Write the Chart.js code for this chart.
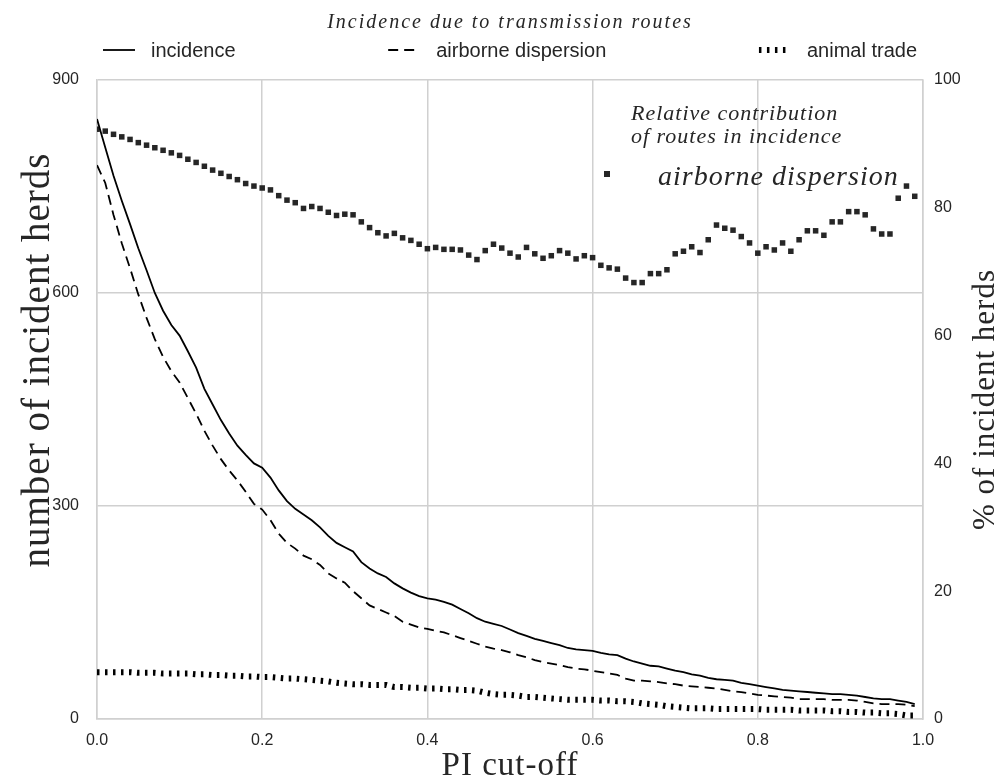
<!DOCTYPE html>
<html><head><meta charset="utf-8">
<script src="https://cdn.jsdelivr.net/npm/chart.js@4/dist/chart.umd.min.js"></script>
<style>html,body{margin:0;padding:0;background:#fff;}#wrap{width:998px;height:784px;position:relative;}</style>
</head><body><div id="wrap"><canvas id="c" width="998" height="784"></canvas></div>
<script>
// ---- data (PI cut-off from 0.00 to 0.99, step 0.01) ----
const piCutoff = [0.00,0.01,0.02,0.03,0.04,0.05,0.06,0.07,0.08,0.09,0.10,0.11,0.12,0.13,0.14,0.15,0.16,0.17,0.18,0.19,0.20,0.21,0.22,0.23,0.24,0.25,0.26,0.27,0.28,0.29,0.30,0.31,0.32,0.33,0.34,0.35,0.36,0.37,0.38,0.39,0.40,0.41,0.42,0.43,0.44,0.45,0.46,0.47,0.48,0.49,0.50,0.51,0.52,0.53,0.54,0.55,0.56,0.57,0.58,0.59,0.60,0.61,0.62,0.63,0.64,0.65,0.66,0.67,0.68,0.69,0.70,0.71,0.72,0.73,0.74,0.75,0.76,0.77,0.78,0.79,0.80,0.81,0.82,0.83,0.84,0.85,0.86,0.87,0.88,0.89,0.90,0.91,0.92,0.93,0.94,0.95,0.96,0.97,0.98,0.99];
const incidence = [845,805,765,730,697,663,632,600,575,555,540,518,495,465,443,421,402,385,372,360,354,340,322,307,296,288,280,270,258,248,242,236,221,212,205,200,191,184,178,173,170,168,165,161,155,149,142,137,134,131,126,121,117,113,110,107,104,100,98,97,96,93,91,90,85,81,78,75,74,71,68,66,63,61,58,56,55,54,51,49,47,45,43,41,40,39,38,37,36,35,35,34,33,31,29,28,28,26,24,21];
const airborneDispersion = [780,755,710,670,635,598,565,535,510,490,474,452,430,406,385,366,350,336,320,303,295,280,261,248,240,230,225,217,205,198,192,180,170,160,155,150,145,137,133,129,127,124,122,118,114,110,106,102,99,97,94,90,87,83,80,78,76,73,71,70,68,66,64,62,57,54,54,53,52,50,49,47,46,45,44,43,41,39,38,36,34,33,32,31,30,28,28,28,28,27,27,27,26,24,22,21,21,21,20,18];
const animalTrade = [66,66,66,66,66,65,65,65,64,64,64,64,63,63,62,62,61,61,60,60,59,59,58,57,57,56,55,54,53,51,50,49,49,48,48,48,45,45,44,44,43,43,42,42,41,41,40,37,35,34,34,33,31,31,30,29,28,27,27,27,27,26,26,25,25,24,22,21,20,18,17,16,15,15,15,14,14,14,14,14,14,13,13,13,13,12,12,12,12,11,11,10,10,9,9,8,8,7,5,5];
const airbornePct = [92.3,92.0,91.5,91.1,90.7,90.2,89.8,89.4,89.0,88.6,88.2,87.6,87.1,86.5,85.9,85.4,84.9,84.4,83.8,83.4,83.1,82.8,81.9,81.2,80.8,79.9,80.2,79.9,79.3,78.8,79.0,78.9,77.8,76.9,76.1,75.6,76.0,75.3,74.9,74.3,73.6,73.8,73.5,73.5,73.4,72.6,71.9,73.3,74.3,73.7,72.9,72.3,73.8,72.8,72.1,72.5,73.3,72.9,72.0,72.5,72.2,71.0,70.6,70.4,69.0,68.3,68.3,69.7,69.7,70.3,72.8,73.2,73.9,73.0,75.0,77.3,76.8,76.5,75.5,74.5,72.9,73.9,73.4,74.5,73.2,75.0,76.4,76.4,75.7,77.8,77.8,79.4,79.4,78.9,76.7,75.9,75.9,81.5,83.4,81.8];
const xTicks = [0.0,0.2,0.4,0.6,0.8,1.0];
const leftTicks = [0,300,600,900];
const rightTicks = [0,20,40,60,80,100];
const seriesNames = ['incidence','airborne dispersion','animal trade'];
const titleText = 'Incidence due to transmission routes';
const innerLegendTitle = ['Relative contribution','of routes in incidence'];
const innerLegendLabel = 'airborne dispersion';
const xTitle = 'PI cut-off';
const yTitle = 'number of incident herds';
const y1Title = '% of incident herds';

const pts = arr => arr.map((v,i)=>({x:piCutoff[i], y:v}));
const INK = '#262626';
const GRID = '#d0d0d0';
const SANS = '"Liberation Sans", Arial, sans-serif';
const SERIF = '"Liberation Serif", "Times New Roman", serif';

const lineStyles = [
  {borderWidth:1.8, borderDash:[]},
  {borderWidth:1.8, borderDash:[10,6]},
  {borderWidth:6, borderDash:[2.5,5.5]}
];

const deco = {
  id:'deco',
  afterDraw(chart){
    const ctx = chart.ctx, a = chart.chartArea;
    ctx.save();
    ctx.fillStyle = INK;
    // title
    ctx.font = 'italic 20px ' + SERIF;
    ctx.letterSpacing = '2px';
    ctx.textAlign = 'center'; ctx.textBaseline = 'alphabetic';
    ctx.fillText(titleText, (a.left+a.right)/2, 28);
    // top legend (expanded across the axes width)
    ctx.font = '20px ' + SANS;
    ctx.letterSpacing = '0px';
    ctx.textAlign = 'left';
    const hl = 32, gap = 16, x0 = a.left+6, x1 = a.right-6;
    const widths = seriesNames.map(s => hl + gap + ctx.measureText(s).width);
    const tot = widths.reduce((p,c)=>p+c,0);
    const sp = (x1-x0-tot)/(seriesNames.length-1);
    let x = x0; const ly = 50;
    seriesNames.forEach((s,i)=>{
      const st = lineStyles[i];
      ctx.save();
      ctx.strokeStyle = '#000'; ctx.lineWidth = st.borderWidth; ctx.setLineDash(st.borderDash); ctx.lineCap='butt';
      ctx.beginPath(); ctx.moveTo(x, ly); ctx.lineTo(x+hl, ly); ctx.stroke();
      ctx.restore();
      ctx.fillText(s, x+hl+gap, ly+7);
      x += widths[i] + sp;
    });
    // inner legend
    ctx.font = 'italic 22px ' + SERIF;
    ctx.letterSpacing = '1px';
    ctx.fillText(innerLegendTitle[0], 631, 120);
    ctx.fillText(innerLegendTitle[1], 631, 143);
    ctx.font = 'italic 28px ' + SERIF;
    ctx.letterSpacing = '1px';
    ctx.fillText(innerLegendLabel, 658, 185);
    ctx.fillStyle = '#262626';
    ctx.fillRect(604, 171, 6, 6);
    // axis titles
    ctx.fillStyle = INK;
    ctx.letterSpacing = '1px';
    ctx.font = '33px ' + SERIF;
    ctx.textAlign = 'center';
    ctx.fillText(xTitle, (a.left+a.right)/2, 775);
    ctx.save();
    ctx.font = '39px ' + SERIF;
    ctx.translate(49, 360); ctx.rotate(-Math.PI/2);
    ctx.fillText(yTitle, 0, 0);
    ctx.restore();
    ctx.save();
    ctx.font = '31px ' + SERIF;
    ctx.translate(994, (a.top+a.bottom)/2); ctx.rotate(-Math.PI/2);
    ctx.fillText(y1Title, 0, 0);
    ctx.restore();
    ctx.restore();
  }
};

new Chart(document.getElementById('c'), {
  type:'line',
  data:{datasets:[
    {label:seriesNames[0], data:pts(incidence), yAxisID:'y', borderColor:'#000', borderWidth:lineStyles[0].borderWidth, pointRadius:0, fill:false, tension:0},
    {label:seriesNames[1], data:pts(airborneDispersion), yAxisID:'y', borderColor:'#000', borderWidth:lineStyles[1].borderWidth, borderDash:lineStyles[1].borderDash, pointRadius:0, fill:false, tension:0},
    {label:seriesNames[2], data:pts(animalTrade), yAxisID:'y', borderColor:'#000', borderWidth:lineStyles[2].borderWidth, borderDash:lineStyles[2].borderDash, borderCapStyle:'butt', pointRadius:0, fill:false, tension:0},
    {label:innerLegendLabel, data:pts(airbornePct), yAxisID:'y1', showLine:false, pointStyle:'rect', pointRadius:3.9, pointBackgroundColor:'#262626', pointBorderWidth:0, borderWidth:0}
  ]},
  options:{
    responsive:false, animation:false, devicePixelRatio:1,
    layout:{padding:{top:80,left:0,right:0,bottom:0}},
    plugins:{legend:{display:false}, title:{display:false}, tooltip:{enabled:false}},
    scales:{
      x:{type:'linear', position:'bottom', min:0, max:1,
        afterBuildTicks:s=>{s.ticks = xTicks.map(v=>({value:v}));},
        ticks:{callback:v=>Number(v).toFixed(1), color:INK, font:{family:SANS,size:16}, padding:12, maxRotation:0},
        grid:{color:GRID, lineWidth:1.5, drawTicks:false},
        border:{color:GRID, width:1.5},
        afterFit:s=>{s.height=65;}},
      y:{type:'linear', position:'left', min:0, max:900,
        afterBuildTicks:s=>{s.ticks = leftTicks.map(v=>({value:v}));},
        ticks:{color:INK, font:{family:SANS,size:16}, padding:18},
        grid:{color:GRID, lineWidth:1.5, drawTicks:false},
        border:{color:GRID, width:1.5},
        afterFit:s=>{s.width=97;}},
      y1:{type:'linear', position:'right', min:0, max:100,
        afterBuildTicks:s=>{s.ticks = rightTicks.map(v=>({value:v}));},
        ticks:{color:INK, font:{family:SANS,size:16}, padding:11},
        grid:{display:false, drawTicks:false},
        border:{color:GRID, width:1.5},
        afterFit:s=>{s.width=75;}}
    }
  },
  plugins:[deco]
});
</script></body></html>
